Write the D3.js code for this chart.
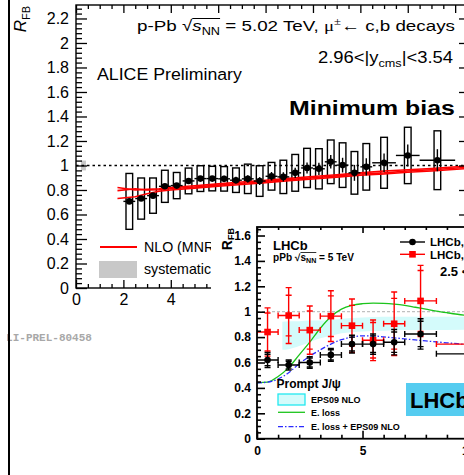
<!DOCTYPE html>
<html>
<head>
<meta charset="utf-8">
<script src="https://cdn.jsdelivr.net/npm/d3@7"></script>
<style>
  body { margin: 0; background: #fff; }
  svg { display: block; }
  text { white-space: pre; }
</style>
</head>
<body>
<svg id="chart" width="464" height="475"></svg>
<script>
// ---------------- ALICE: R_FB of muons from heavy-flavour decays ----------------
const aliceBinLo = [2.0, 2.5, 3.0, 3.5, 4.0, 4.5, 5.0, 5.5, 6.0, 6.5, 7.0, 7.5, 8.0, 8.5, 9.0, 9.5, 10.0, 10.5, 11.0, 11.5, 12.0, 12.5, 13.5, 14.5];
const aliceBinHi = [2.5, 3.0, 3.5, 4.0, 4.5, 5.0, 5.5, 6.0, 6.5, 7.0, 7.5, 8.0, 8.5, 9.0, 9.5, 10.0, 10.5, 11.0, 11.5, 12.0, 12.5, 13.5, 14.5, 16.0];
const aliceRfb   = [0.707, 0.730, 0.754, 0.830, 0.836, 0.874, 0.893, 0.893, 0.891, 0.880, 0.891, 0.873, 0.912, 0.907, 0.940, 0.980, 0.973, 1.030, 1.003, 0.940, 0.989, 1.022, 1.082, 1.043];
const aliceStat  = [0.012, 0.012, 0.012, 0.015, 0.015, 0.018, 0.020, 0.022, 0.025, 0.028, 0.030, 0.032, 0.035, 0.038, 0.042, 0.045, 0.050, 0.055, 0.060, 0.065, 0.070, 0.075, 0.090, 0.090];
const aliceSyst  = [0.228, 0.168, 0.144, 0.131, 0.107, 0.105, 0.105, 0.100, 0.100, 0.100, 0.120, 0.125, 0.113, 0.136, 0.150, 0.160, 0.164, 0.178, 0.182, 0.174, 0.190, 0.208, 0.230, 0.240];
const normUnc = 0.04;          // global normalisation uncertainty, drawn at pT ~ 0.3
const normPt = [0.21, 0.42];

// NLO (MNR) prediction: upper, central and lower curves
const nloPt      = [1.75, 2.5, 3.0, 3.5, 4.0, 5.0, 6.0, 7.0, 8.0, 9.0, 10.0, 11.0, 12.0, 13.0, 14.0, 15.0, 16.5];
const nloUpper   = [0.820, 0.800, 0.805, 0.810, 0.820, 0.835, 0.850, 0.865, 0.880, 0.895, 0.910, 0.925, 0.940, 0.955, 0.965, 0.975, 0.995];
const nloCentral = [0.795, 0.810, 0.800, 0.802, 0.810, 0.825, 0.840, 0.855, 0.870, 0.885, 0.900, 0.915, 0.930, 0.940, 0.955, 0.965, 0.985];
const nloLower   = [0.730, 0.745, 0.770, 0.790, 0.800, 0.815, 0.830, 0.845, 0.860, 0.875, 0.890, 0.905, 0.920, 0.930, 0.945, 0.955, 0.975];

const mainYTicks = [0, 0.2, 0.4, 0.6, 0.8, 1, 1.2, 1.4, 1.6, 1.8, 2, 2.2];
const mainXTicks = [0, 2, 4, 6, 8, 10, 12, 14, 16];

// ---------------- LHCb: R_FB of J/psi ----------------
const lhcbBinLo    = [0, 1, 2, 3, 4, 5, 6, 7.0, 8.5];
const lhcbBinHi    = [1, 2, 3, 4, 5, 6, 7, 8.5, 14.0];
const promptRfb    = [0.620, 0.580, 0.600, 0.660, 0.745, 0.745, 0.760, 0.825, 0.668];
const promptErr    = [0.060, 0.040, 0.045, 0.050, 0.070, 0.080, 0.100, 0.120, 0.100];
const promptStat   = [0.045, 0.030, 0.035, 0.040, 0.055, 0.065, 0.080, 0.100, 0.080];
const fromBRfb     = [0.840, 0.970, 0.855, 0.965, 0.890, 0.775, 0.905, 1.085, 0.745];
const fromBErr     = [0.190, 0.220, 0.190, 0.200, 0.210, 0.160, 0.250, 0.280, 0.120];
const fromBStat    = [0.150, 0.160, 0.150, 0.160, 0.160, 0.140, 0.200, 0.240, 0.100];

const eps09Pt      = [1.2, 1.5, 2.0, 2.5, 3.0, 3.5, 4.0, 5.0, 6.0, 7.0, 8.0, 10.5];
const eps09Lo      = [0.700, 0.705, 0.730, 0.760, 0.790, 0.810, 0.830, 0.845, 0.850, 0.855, 0.855, 0.860];
const eps09Hi      = [0.920, 0.925, 0.925, 0.930, 0.930, 0.935, 0.945, 0.955, 0.960, 0.960, 0.960, 0.960];

const theoryPt     = [0, 0.5, 1.0, 1.5, 2.0, 2.5, 3.0, 3.5, 4.0, 4.5, 5.0, 5.5, 6.0, 6.5, 7.0, 7.5, 8.0, 8.5, 9.0, 9.5, 10.0, 10.5];
const elossRfb     = [0.440, 0.445, 0.490, 0.560, 0.660, 0.760, 0.870, 0.960, 1.020, 1.050, 1.063, 1.068, 1.066, 1.060, 1.050, 1.035, 1.020, 1.005, 0.992, 0.980, 0.970, 0.962];
const elossEpsRfb  = [0.440, 0.445, 0.470, 0.520, 0.590, 0.650, 0.700, 0.745, 0.780, 0.800, 0.810, 0.810, 0.802, 0.794, 0.786, 0.778, 0.770, 0.762, 0.755, 0.748, 0.740, 0.734];

const insetYTicks = [0, 0.2, 0.4, 0.6, 0.8, 1, 1.2, 1.4, 1.6];
const insetXTicks = [0, 5, 10];

// ---------------- drawing ----------------
const SANS = "'Liberation Sans', Arial, Helvetica, sans-serif";
const SERIF = "'Liberation Serif', 'Times New Roman', serif";
const MONO = "'Liberation Mono', 'Courier New', monospace";
const fmt = d => String(+d.toFixed(1));
const svg = d3.select("#chart");

// Lays out a run of text pieces (sub/superscripts, radicals) one after another.
function rich(parent, parts, o) {
  const g = parent.append("g");
  let cx = 0;
  const placed = [];
  parts.forEach(p => {
    const t = g.append("text")
      .attr("x", cx).attr("y", p.dy || 0)
      .attr("font-family", p.family || SANS)
      .attr("font-size", p.size)
      .attr("font-weight", p.weight || "normal")
      .attr("font-style", p.style || "normal")
      .attr("fill", p.fill || "#000")
      .text(p.t);
    const w = t.node().getComputedTextLength();
    placed.push({ x0: cx, x1: cx + w, p });
    cx += w;
  });
  const bars = placed.filter(d => d.p.bar);
  if (bars.length) {
    g.append("line")
      .attr("x1", d3.min(bars, d => d.x0)).attr("x2", d3.max(bars, d => d.x1))
      .attr("y1", o.barY).attr("y2", o.barY)
      .attr("stroke", "#000").attr("stroke-width", o.barW || 1);
  }
  const sx = o.width ? o.width / cx : 1;
  const off = o.anchor === "end" ? -cx : o.anchor === "middle" ? -cx / 2 : 0;
  g.attr("transform", `translate(${o.x},${o.y}) rotate(${o.rotate || 0}) scale(${sx},1) translate(${off},0)`);
  return g;
}

// ===== main ALICE panel =====
const mx = d3.scaleLinear().domain([0, 16.5]).range([76, 467]);
const my = d3.scaleLinear().domain([0, 2.31]).range([288, 5]);
const main = svg.append("g");

// normalisation box
main.append("rect")
  .attr("x", mx(normPt[0])).attr("width", mx(normPt[1]) - mx(normPt[0]))
  .attr("y", my(1 + normUnc)).attr("height", my(1 - normUnc) - my(1 + normUnc))
  .attr("fill", "#c8c8c8");

// unity line
main.append("line")
  .attr("x1", mx(0)).attr("x2", mx(16.5)).attr("y1", my(1)).attr("y2", my(1))
  .attr("stroke", "#000").attr("stroke-width", 1.6).attr("stroke-dasharray", "2.5,3");

const aliceRows = aliceRfb.map((v, i) => ({
  lo: aliceBinLo[i], hi: aliceBinHi[i], pt: (aliceBinLo[i] + aliceBinHi[i]) / 2,
  v, stat: aliceStat[i], syst: aliceSyst[i]
}));
const boxHalf = 0.14;

// systematic boxes
main.selectAll("rect.syst").data(aliceRows).join("rect").attr("class", "syst")
  .attr("x", d => mx(d.pt - boxHalf)).attr("width", d => mx(d.pt + boxHalf) - mx(d.pt - boxHalf))
  .attr("y", d => my(d.v + d.syst)).attr("height", d => my(d.v - d.syst) - my(d.v + d.syst))
  .attr("fill", "none").attr("stroke", "#000").attr("stroke-width", 1.4);

// NLO curves
const nloLine = d3.line().x((d, i) => mx(nloPt[i])).y(d => my(d));
[nloUpper, nloCentral, nloLower].forEach(arr => {
  main.append("path").attr("d", nloLine(arr))
    .attr("fill", "none").attr("stroke", "#ff0000").attr("stroke-width", 1.6);
});

// stat bars, bin widths and markers
main.selectAll("line.xerr").data(aliceRows).join("line").attr("class", "xerr")
  .attr("x1", d => mx(d.lo)).attr("x2", d => mx(d.hi)).attr("y1", d => my(d.v)).attr("y2", d => my(d.v))
  .attr("stroke", "#000").attr("stroke-width", 1.4);
main.selectAll("line.yerr").data(aliceRows).join("line").attr("class", "yerr")
  .attr("x1", d => mx(d.pt)).attr("x2", d => mx(d.pt)).attr("y1", d => my(d.v - d.stat)).attr("y2", d => my(d.v + d.stat))
  .attr("stroke", "#000").attr("stroke-width", 1.4);
main.selectAll("circle.pt").data(aliceRows).join("circle").attr("class", "pt")
  .attr("cx", d => mx(d.pt)).attr("cy", d => my(d.v)).attr("r", 3.3).attr("fill", "#000");

// axes
function styleAxis(g, size) {
  g.select(".domain").remove();
  g.selectAll("line").attr("stroke", "#000").attr("stroke-width", 1.3);
  g.selectAll("text").attr("font-family", SANS).attr("font-size", size).attr("fill", "#000");
}
const yMinor = d3.range(0, 2.31, 0.04).filter(v => Math.abs(v / 0.2 - Math.round(v / 0.2)) > 1e-6);
const xMinor = d3.range(0, 16.51, 0.5).filter(v => v % 2 !== 0);
// only the labels left of the inset are shown
const xLabel = d => (d <= 4 ? fmt(d) : "");

main.append("g").attr("transform", `translate(${mx(0)},0)`)
  .call(d3.axisLeft(my).tickValues(yMinor).tickSize(-6).tickFormat("")).call(g => styleAxis(g, 16));
main.append("g").attr("transform", `translate(${mx(0)},0)`)
  .call(d3.axisLeft(my).tickValues(mainYTicks).tickSize(-11).tickPadding(7).tickFormat(fmt)).call(g => styleAxis(g, 16));
main.append("g").attr("transform", `translate(${mx(16.5)},0)`)
  .call(d3.axisRight(my).tickValues(mainYTicks).tickSize(-8).tickFormat("")).call(g => styleAxis(g, 16));
main.append("g").attr("transform", `translate(0,${my(0)})`)
  .call(d3.axisBottom(mx).tickValues(xMinor).tickSize(-4).tickFormat("")).call(g => styleAxis(g, 16));
main.append("g").attr("transform", `translate(0,${my(0)})`)
  .call(d3.axisBottom(mx).tickValues(mainXTicks).tickSize(-8).tickPadding(5.5).tickFormat(xLabel)).call(g => styleAxis(g, 16));
main.append("g").attr("transform", `translate(0,${my(2.31)})`)
  .call(d3.axisTop(mx).tickValues(xMinor).tickSize(-4).tickFormat("")).call(g => styleAxis(g, 16));
main.append("g").attr("transform", `translate(0,${my(2.31)})`)
  .call(d3.axisTop(mx).tickValues(mainXTicks).tickSize(-8).tickFormat("")).call(g => styleAxis(g, 16));
main.append("rect")
  .attr("x", mx(0)).attr("y", my(2.31)).attr("width", mx(16.5) - mx(0)).attr("height", my(0) - my(2.31))
  .attr("fill", "none").attr("stroke", "#000").attr("stroke-width", 1.4);

// y title
rich(main, [
  { t: "R", size: 17, style: "italic" },
  { t: "FB", size: 11, dy: 4 }
], { x: 26, y: 6, rotate: -90, anchor: "end" });

// header texts
rich(main, [
  { t: "p-Pb ", size: 15.5 },
  { t: "\u221A", size: 15.5 },
  { t: "s", size: 15.5, style: "italic", bar: true },
  { t: "NN", size: 10.5, dy: 4, bar: true },
  { t: " = 5.02 TeV, ", size: 15.5 },
  { t: "\u03BC", size: 15.5, family: SERIF },
  { t: "\u00B1", size: 10.5, dy: -6, family: SERIF },
  { t: "\u2190 c,b decays", size: 15.5 }
], { x: 137, y: 31, width: 318, barY: -12.5, barW: 1 });

rich(main, [
  { t: "2.96<|y", size: 16 },
  { t: "cms", size: 11, dy: 4 },
  { t: "|<3.54", size: 16 }
], { x: 453, y: 63, anchor: "end", width: 135 });

rich(main, [{ t: "ALICE Preliminary", size: 16.5 }], { x: 97, y: 80, width: 145 });
rich(main, [{ t: "Minimum bias", size: 21, weight: "bold" }], { x: 455, y: 115, anchor: "end", width: 166 });

// legend
main.append("line").attr("x1", 100).attr("x2", 137).attr("y1", 247).attr("y2", 247)
  .attr("stroke", "#ff0000").attr("stroke-width", 2);
main.append("text").attr("x", 144).attr("y", 252).attr("font-family", SANS).attr("font-size", 14.2)
  .text("NLO (MNR)");
main.append("rect").attr("x", 99).attr("y", 261).attr("width", 38).attr("height", 17).attr("fill", "#c8c8c8");
main.append("text").attr("x", 144).attr("y", 274).attr("font-family", SANS).attr("font-size", 14.2)
  .text("systematic");

// preliminary figure number
svg.append("clipPath").attr("id", "leftClip").append("rect").attr("x", 7).attr("y", 0).attr("width", 457).attr("height", 475);
svg.append("text").attr("clip-path", "url(#leftClip)")
  .attr("x", -0.5).attr("y", 341).attr("font-family", MONO).attr("font-weight", "bold")
  .attr("font-size", 11).attr("fill", "#a8a8a8").text("ALI-PREL-80458");

// left page border
svg.append("line").attr("x1", 9).attr("x2", 9).attr("y1", 0).attr("y2", 475)
  .attr("stroke", "#000").attr("stroke-width", 2);

// ===== LHCb inset =====
const inset = svg.append("g");
inset.append("rect").attr("x", 211).attr("y", 219).attr("width", 253).attr("height", 256).attr("fill", "#fff");

const ix = d3.scaleLinear().domain([0, 10.5]).range([257, 478.6]);
const iy = d3.scaleLinear().domain([0, 1.667]).range([438.7, 227]);

svg.append("clipPath").attr("id", "insetClip").append("rect")
  .attr("x", ix(0)).attr("y", iy(1.667)).attr("width", ix(10.5) - ix(0)).attr("height", iy(0) - iy(1.667));
const plot = inset.append("g").attr("clip-path", "url(#insetClip)");

// EPS09 band
plot.append("path")
  .attr("d", d3.area().curve(d3.curveMonotoneX)
    .x((d, i) => ix(eps09Pt[i])).y0((d, i) => iy(eps09Lo[i])).y1((d, i) => iy(eps09Hi[i]))(eps09Pt))
  .attr("fill", "#d4fbfb");

// unity line
plot.append("line").attr("x1", ix(0)).attr("x2", ix(10.5)).attr("y1", iy(1)).attr("y2", iy(1))
  .attr("stroke", "#b0b0b0").attr("stroke-width", 1).attr("stroke-dasharray", "3,2");

const theoryLine = d3.line().curve(d3.curveMonotoneX).x((d, i) => ix(theoryPt[i])).y(d => iy(d));
plot.append("path").attr("d", theoryLine(elossRfb))
  .attr("fill", "none").attr("stroke", "#1cc41c").attr("stroke-width", 1.3);
plot.append("path").attr("d", theoryLine(elossEpsRfb))
  .attr("fill", "none").attr("stroke", "#2a2aff").attr("stroke-width", 1.3).attr("stroke-dasharray", "5,2,1.5,2");

function drawSeries(vals, errs, stats, color, marker) {
  const rows = vals.map((v, i) => ({
    lo: lhcbBinLo[i], hi: lhcbBinHi[i], pt: (lhcbBinLo[i] + lhcbBinHi[i]) / 2, v, e: errs[i], s: stats[i]
  }));
  const g = plot.append("g").attr("stroke", color).attr("stroke-width", 1.4);
  rows.forEach(d => {
    const x = ix(d.pt), y = iy(d.v);
    g.append("line").attr("x1", ix(d.lo)).attr("x2", ix(d.hi)).attr("y1", y).attr("y2", y);
    g.append("line").attr("x1", ix(d.lo)).attr("x2", ix(d.lo)).attr("y1", y - 3).attr("y2", y + 3);
    g.append("line").attr("x1", ix(d.hi)).attr("x2", ix(d.hi)).attr("y1", y - 3).attr("y2", y + 3);
    g.append("line").attr("x1", x).attr("x2", x).attr("y1", iy(d.v + d.e)).attr("y2", iy(d.v - d.e));
    [d.v + d.e, d.v - d.e, d.v + d.s, d.v - d.s].forEach(c => {
      g.append("line").attr("x1", x - 3).attr("x2", x + 3).attr("y1", iy(c)).attr("y2", iy(c));
    });
    if (marker === "circle") {
      plot.append("circle").attr("cx", x).attr("cy", y).attr("r", 3.3).attr("fill", color);
    } else {
      plot.append("rect").attr("x", x - 3.3).attr("y", y - 3.3).attr("width", 6.6).attr("height", 6.6).attr("fill", color);
    }
  });
}
drawSeries(fromBRfb, fromBErr, fromBStat, "#ff0000", "square");
drawSeries(promptRfb, promptErr, promptStat, "#000", "circle");

// inset axes
function styleInset(g) {
  g.select(".domain").remove();
  g.selectAll("line").attr("stroke", "#000").attr("stroke-width", 1.6);
  g.selectAll("text").attr("font-family", SANS).attr("font-size", 12).attr("font-weight", "bold").attr("fill", "#000");
}
const iyMinor = d3.range(0, 1.667, 0.05).filter(v => Math.abs(v / 0.2 - Math.round(v / 0.2)) > 1e-6);
const ixMinor = d3.range(0, 10.51, 1).filter(v => v % 5 !== 0);
inset.append("g").attr("transform", `translate(${ix(0)},0)`)
  .call(d3.axisLeft(iy).tickValues(iyMinor).tickSize(-4).tickFormat("")).call(styleInset);
inset.append("g").attr("transform", `translate(${ix(0)},0)`)
  .call(d3.axisLeft(iy).tickValues(insetYTicks).tickSize(-8).tickPadding(6).tickFormat(fmt)).call(styleInset);
inset.append("g").attr("transform", `translate(0,${iy(0)})`)
  .call(d3.axisBottom(ix).tickValues(ixMinor).tickSize(-4).tickFormat("")).call(styleInset);
inset.append("g").attr("transform", `translate(0,${iy(0)})`)
  .call(d3.axisBottom(ix).tickValues(insetXTicks).tickSize(-8).tickPadding(7.8).tickFormat(fmt)).call(styleInset);
inset.append("g").attr("transform", `translate(0,${iy(1.667)})`)
  .call(d3.axisTop(ix).tickValues(ixMinor).tickSize(-3).tickFormat("")).call(styleInset);
inset.append("g").attr("transform", `translate(0,${iy(1.667)})`)
  .call(d3.axisTop(ix).tickValues(insetXTicks).tickSize(-6).tickFormat("")).call(styleInset);
inset.append("rect")
  .attr("x", ix(0)).attr("y", iy(1.667)).attr("width", ix(10.5) - ix(0)).attr("height", iy(0) - iy(1.667))
  .attr("fill", "none").attr("stroke", "#000").attr("stroke-width", 1.8);

// inset y title
rich(inset, [
  { t: "R", size: 14, weight: "bold" },
  { t: "FB", size: 9, weight: "bold", dy: 2.5 }
], { x: 231.5, y: 228, rotate: -90, anchor: "end" });

// inset labels
rich(inset, [{ t: "LHCb", size: 13, weight: "bold" }], { x: 273, y: 249.5 });
rich(inset, [
  { t: "pPb ", size: 10, weight: "bold" },
  { t: "\u221A", size: 10, weight: "bold" },
  { t: "s", size: 10, weight: "bold", bar: true },
  { t: "NN", size: 7, weight: "bold", dy: 2.5, bar: true },
  { t: " = 5 TeV", size: 10, weight: "bold" }
], { x: 273, y: 260.5, width: 81, barY: -8, barW: 0.8 });

// inset legend (data)
inset.append("line").attr("x1", 400).attr("x2", 425).attr("y1", 242).attr("y2", 242).attr("stroke", "#000").attr("stroke-width", 1.4);
inset.append("circle").attr("cx", 412.5).attr("cy", 242).attr("r", 3.3).attr("fill", "#000");
inset.append("text").attr("x", 430).attr("y", 246.3).attr("font-family", SANS).attr("font-weight", "bold").attr("font-size", 11.5)
  .text("LHCb, prompt J/\u03C8");
inset.append("line").attr("x1", 400).attr("x2", 425).attr("y1", 254.3).attr("y2", 254.3).attr("stroke", "#ff0000").attr("stroke-width", 1.4);
inset.append("rect").attr("x", 409.2).attr("y", 251).attr("width", 6.6).attr("height", 6.6).attr("fill", "#ff0000");
inset.append("text").attr("x", 430).attr("y", 259).attr("font-family", SANS).attr("font-weight", "bold").attr("font-size", 11.5)
  .text("LHCb, J/\u03C8 from b");
inset.append("text").attr("x", 440).attr("y", 276).attr("font-family", SANS).attr("font-weight", "bold").attr("font-size", 13)
  .text("2.5 < |y*| < 4.0");

// inset legend (theory)
inset.append("text").attr("x", 276.5).attr("y", 388).attr("font-family", SANS).attr("font-weight", "bold").attr("font-size", 12)
  .text("Prompt J/\u03C8");
inset.append("rect").attr("x", 278).attr("y", 394).attr("width", 27).attr("height", 11)
  .attr("fill", "#d4fbfb").attr("stroke", "#22e8f0").attr("stroke-width", 1.3);
inset.append("line").attr("x1", 278).attr("x2", 305).attr("y1", 412.3).attr("y2", 412.3).attr("stroke", "#1cc41c").attr("stroke-width", 1.3);
inset.append("line").attr("x1", 278).attr("x2", 305).attr("y1", 426.7).attr("y2", 426.7).attr("stroke", "#2a2aff").attr("stroke-width", 1.3).attr("stroke-dasharray", "5,2,1.5,2");
[["EPS09 NLO", 403.2], ["E. loss", 415.8], ["E. loss + EPS09 NLO", 430.2]].forEach(([t, y]) => {
  inset.append("text").attr("x", 311).attr("y", y).attr("font-family", SANS).attr("font-weight", "bold").attr("font-size", 9)
    .text(t);
});

// experiment badge
inset.append("rect").attr("x", 406).attr("y", 383).attr("width", 70).attr("height", 33).attr("fill", "#55ccf0");
inset.append("text").attr("x", 410).attr("y", 408).attr("font-family", SANS).attr("font-weight", "bold").attr("font-size", 22)
  .text("LHCb");
</script>
</body>
</html>
